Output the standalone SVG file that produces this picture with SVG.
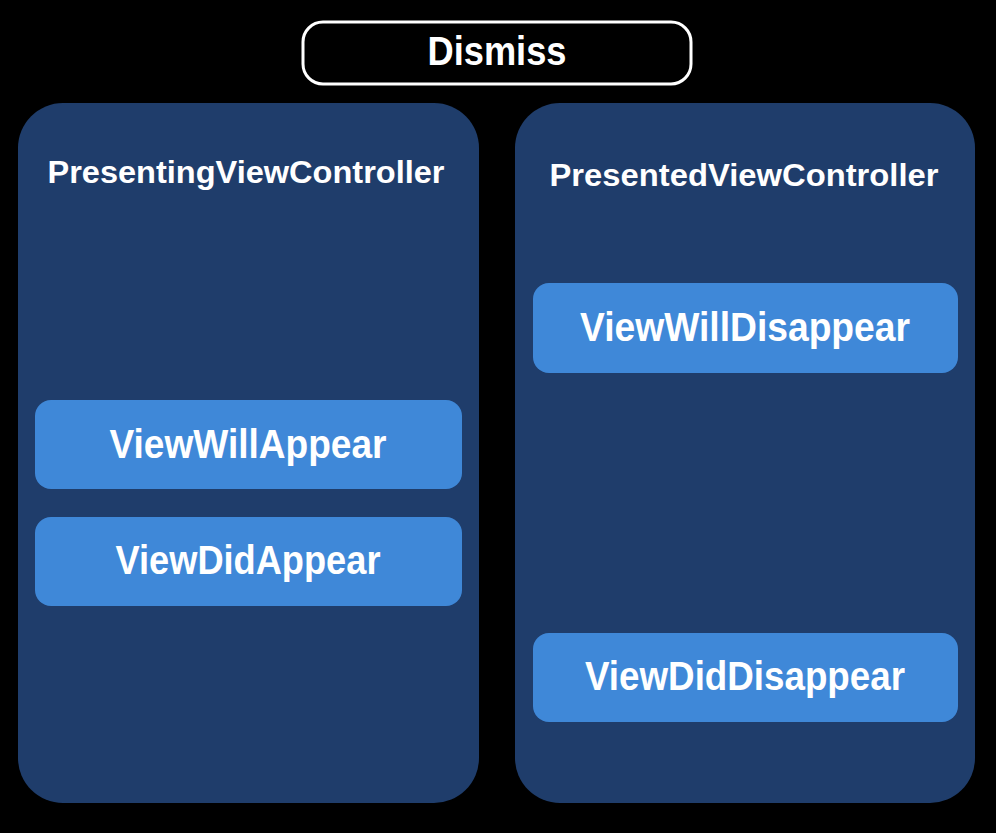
<svg xmlns="http://www.w3.org/2000/svg" width="996" height="833" viewBox="0 0 996 833">
<style>
.panel{fill:#1f3d6b}
.btn{fill:#3f88d8}
.t{font-family:"Liberation Sans","DejaVu Sans",sans-serif;font-weight:bold;fill:#ffffff;text-anchor:middle}
.title{font-size:32px}
.lbl{font-size:40px}
</style>
<rect x="0" y="0" width="996" height="833" fill="#000000"/>
<g id="dismiss">
<rect x="303" y="22" width="388" height="62" rx="20" fill="#000000" stroke="#ffffff" stroke-width="3"/>
<text class="t" x="497" y="65" font-size="41" textLength="139" lengthAdjust="spacingAndGlyphs">Dismiss</text>
</g>
<g id="presenting">
<rect class="panel" x="18" y="103" width="461" height="700" rx="45"/>
<text class="t title" x="246" y="183" textLength="397" lengthAdjust="spacingAndGlyphs">PresentingViewController</text>
</g>
<g id="presented">
<rect class="panel" x="515" y="103" width="460" height="700" rx="45"/>
<text class="t title" x="744" y="186" textLength="389" lengthAdjust="spacingAndGlyphs">PresentedViewController</text>
</g>
<g id="viewWillAppear">
<rect class="btn" x="35" y="400" width="427" height="89" rx="16"/>
<text class="t lbl" x="248" y="458" textLength="277" lengthAdjust="spacingAndGlyphs">ViewWillAppear</text>
</g>
<g id="viewDidAppear">
<rect class="btn" x="35" y="517" width="427" height="89" rx="16"/>
<text class="t lbl" x="248" y="574" textLength="265" lengthAdjust="spacingAndGlyphs">ViewDidAppear</text>
</g>
<g id="viewWillDisappear">
<rect class="btn" x="533" y="283" width="425" height="90" rx="16"/>
<text class="t lbl" x="745" y="341" textLength="330" lengthAdjust="spacingAndGlyphs">ViewWillDisappear</text>
</g>
<g id="viewDidDisappear">
<rect class="btn" x="533" y="633" width="425" height="89" rx="16"/>
<text class="t lbl" x="745" y="690" textLength="320" lengthAdjust="spacingAndGlyphs">ViewDidDisappear</text>
</g>
<g id="connectors"></g>
</svg>
